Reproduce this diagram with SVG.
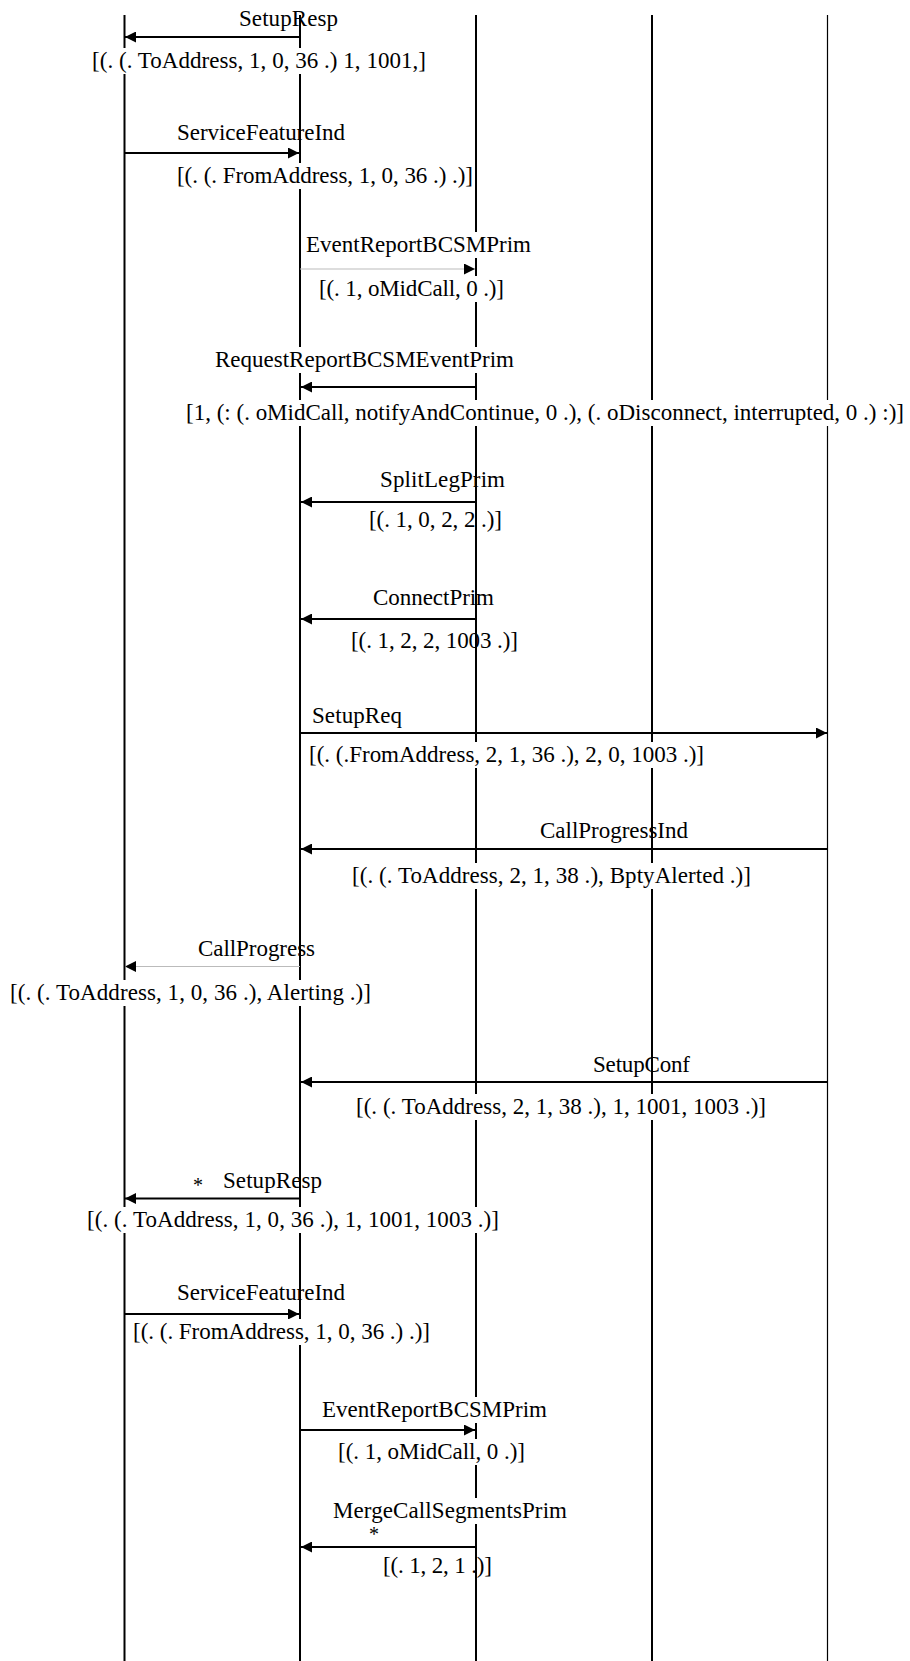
<svg xmlns="http://www.w3.org/2000/svg" width="910" height="1661" viewBox="0 0 910 1661">
<style>
  .life{stroke:#000;stroke-width:2;fill:none}
  .life5{stroke:#000;stroke-width:1.2;fill:none}
  .msg{stroke:#000;stroke-width:2;fill:none}
  .thin{stroke:#bbb;stroke-width:1;fill:none}
  .t{font-family:"Liberation Serif","Times New Roman",serif;font-size:23px;fill:#000}
  .star{font-family:"Liberation Serif","Times New Roman",serif;font-size:20px;fill:#000}
  .bg{fill:#fff}
</style>
<defs>
  <marker id="ah" markerWidth="12" markerHeight="11" refX="11" refY="5.5" orient="auto" markerUnits="userSpaceOnUse">
    <path d="M0,0 L11,5.5 L0,11 Z" fill="#000"/>
  </marker>
</defs>
<rect width="910" height="1661" fill="#fff"/>
<g id="lifelines">
  <line class="life" x1="124.5" y1="15" x2="124.5" y2="1661"/>
  <line class="life" x1="300" y1="15" x2="300" y2="1661"/>
  <line class="life" x1="476" y1="15" x2="476" y2="1661"/>
  <line class="life" x1="652" y1="15" x2="652" y2="1661"/>
  <line class="life5" x1="827.5" y1="15" x2="827.5" y2="1661"/>
</g>
<g id="connectors">
  <line class="msg" x1="300" y1="37" x2="125" y2="37" marker-end="url(#ah)"/>
  <line class="msg" x1="124.5" y1="153" x2="299" y2="153" marker-end="url(#ah)"/>
  <line class="thin" x1="300" y1="269" x2="475" y2="269" marker-end="url(#ah)"/>
  <line class="msg" x1="476" y1="387" x2="301" y2="387" marker-end="url(#ah)"/>
  <line class="msg" x1="476" y1="502" x2="301" y2="502" marker-end="url(#ah)"/>
  <line class="msg" x1="476" y1="619" x2="301" y2="619" marker-end="url(#ah)"/>
  <line class="msg" x1="300" y1="733" x2="827" y2="733" marker-end="url(#ah)"/>
  <line class="msg" x1="827.5" y1="849" x2="301" y2="849" marker-end="url(#ah)"/>
  <line class="thin" x1="300" y1="966.5" x2="125" y2="966.5" marker-end="url(#ah)"/>
  <line class="msg" x1="827.5" y1="1082" x2="301" y2="1082" marker-end="url(#ah)"/>
  <line class="msg" x1="300" y1="1198.5" x2="125" y2="1198.5" marker-end="url(#ah)"/>
  <line class="msg" x1="124.5" y1="1314" x2="299" y2="1314" marker-end="url(#ah)"/>
  <line class="msg" x1="300" y1="1430" x2="475" y2="1430" marker-end="url(#ah)"/>
  <line class="msg" x1="476" y1="1547" x2="301" y2="1547" marker-end="url(#ah)"/>
</g>
<g id="m1">
  <text class="t" x="239" y="26" textLength="99">SetupResp</text>
  <rect class="bg" x="92" y="48" width="334" height="26"/>
  <text class="t" x="92" y="68" textLength="334">[(. (. ToAddress, 1, 0, 36 .) 1, 1001,]</text>
</g>
<g id="m2">
  <text class="t" x="177" y="140" textLength="168">ServiceFeatureInd</text>
  <rect class="bg" x="177" y="163" width="296" height="26"/>
  <text class="t" x="177" y="183" textLength="296">[(. (. FromAddress, 1, 0, 36 .) .)]</text>
</g>
<g id="m3">
  <rect class="bg" x="306" y="232" width="225" height="26"/>
  <text class="t" x="306" y="252" textLength="225">EventReportBCSMPrim</text>
  <rect class="bg" x="319" y="276" width="185" height="26"/>
  <text class="t" x="319" y="296" textLength="185">[(. 1, oMidCall, 0 .)]</text>
</g>
<g id="m4">
  <rect class="bg" x="215" y="347" width="299" height="26"/>
  <text class="t" x="215" y="367" textLength="299">RequestReportBCSMEventPrim</text>
  <rect class="bg" x="186" y="400" width="718" height="26"/>
  <text class="t" x="186" y="420" textLength="718">[1, (: (. oMidCall, notifyAndContinue, 0 .), (. oDisconnect, interrupted, 0 .) :)]</text>
</g>
<g id="m5">
  <text class="t" x="380" y="487" textLength="125">SplitLegPrim</text>
  <text class="t" x="369" y="527" textLength="133">[(. 1, 0, 2, 2 .)]</text>
</g>
<g id="m6">
  <text class="t" x="373" y="604.5" textLength="121">ConnectPrim</text>
  <text class="t" x="351" y="648" textLength="167">[(. 1, 2, 2, 1003 .)]</text>
</g>
<g id="m7">
  <text class="t" x="312" y="723" textLength="90">SetupReq</text>
  <rect class="bg" x="309" y="742" width="395" height="26"/>
  <text class="t" x="309" y="762" textLength="395">[(. (.FromAddress, 2, 1, 36 .), 2, 0, 1003 .)]</text>
</g>
<g id="m8">
  <text class="t" x="540" y="837.5" textLength="148">CallProgressInd</text>
  <rect class="bg" x="352" y="863" width="399" height="26"/>
  <text class="t" x="352" y="883" textLength="399">[(. (. ToAddress, 2, 1, 38 .), BptyAlerted .)]</text>
</g>
<g id="m9">
  <text class="t" x="198" y="956" textLength="117">CallProgress</text>
  <rect class="bg" x="10" y="980" width="361" height="26"/>
  <text class="t" x="10" y="1000" textLength="361">[(. (. ToAddress, 1, 0, 36 .), Alerting .)]</text>
</g>
<g id="m10">
  <text class="t" x="593" y="1072" textLength="97">SetupConf</text>
  <rect class="bg" x="356" y="1094" width="410" height="26"/>
  <text class="t" x="356" y="1114" textLength="410">[(. (. ToAddress, 2, 1, 38 .), 1, 1001, 1003 .)]</text>
</g>
<g id="m11">
  <text class="star" x="193" y="1192">*</text>
  <text class="t" x="223" y="1188" textLength="99">SetupResp</text>
  <rect class="bg" x="87" y="1207" width="412" height="26"/>
  <text class="t" x="87" y="1227" textLength="412">[(. (. ToAddress, 1, 0, 36 .), 1, 1001, 1003 .)]</text>
</g>
<g id="m12">
  <text class="t" x="177" y="1300" textLength="168">ServiceFeatureInd</text>
  <rect class="bg" x="133" y="1319" width="297" height="26"/>
  <text class="t" x="133" y="1339" textLength="297">[(. (. FromAddress, 1, 0, 36 .) .)]</text>
</g>
<g id="m13">
  <rect class="bg" x="322" y="1397" width="225" height="26"/>
  <text class="t" x="322" y="1417" textLength="225">EventReportBCSMPrim</text>
  <rect class="bg" x="338" y="1439" width="187" height="26"/>
  <text class="t" x="338" y="1458.5" textLength="187">[(. 1, oMidCall, 0 .)]</text>
</g>
<g id="m14">
  <rect class="bg" x="333" y="1498" width="234" height="26"/>
  <text class="t" x="333" y="1518" textLength="234">MergeCallSegmentsPrim</text>
  <text class="star" x="369" y="1541">*</text>
  <text class="t" x="383" y="1573" textLength="109">[(. 1, 2, 1 .)]</text>
</g>
</svg>
